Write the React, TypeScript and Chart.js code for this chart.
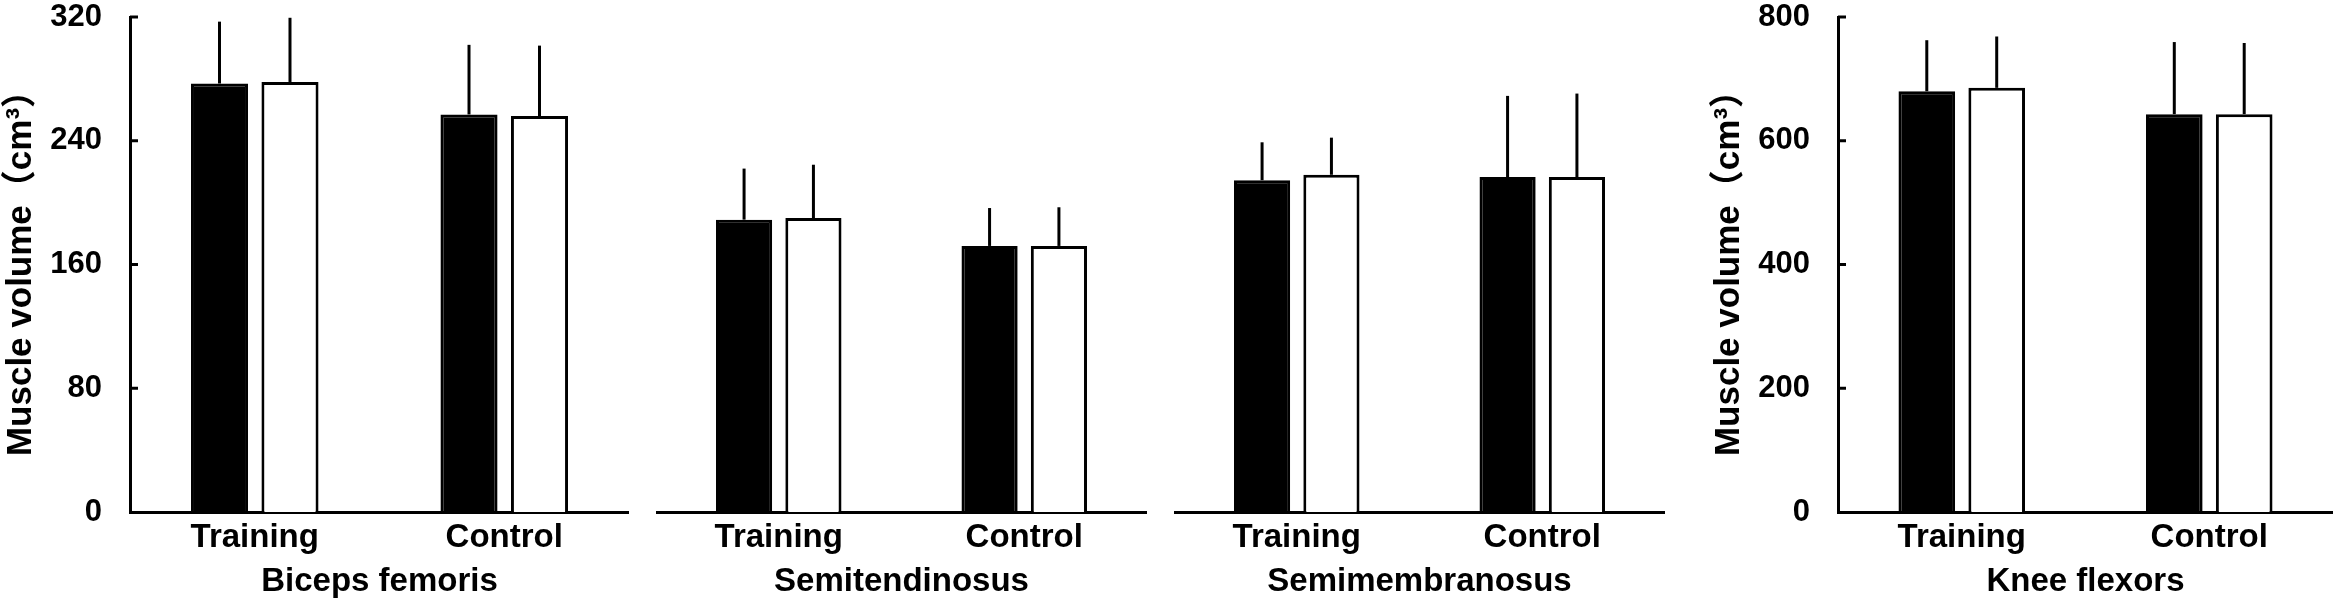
import { useEffect, useRef } from "react"
import { Chart, registerables } from "chart.js"

Chart.register(...registerables)

// groups on each x-axis
const groups = ["Training", "Control"]

// black bars (pre) and white bars (post): means and SD, cm3
const bicepsPre = [277, 257]
const bicepsPreSd = [40, 45]
const bicepsPost = [278, 256]
const bicepsPostSd = [41.5, 45.5]

const semitendPre = [189, 172]
const semitendPreSd = [33, 24.5]
const semitendPost = [190, 172]
const semitendPostSd = [34.5, 25]

const semimembPre = [214.5, 216.5]
const semimembPreSd = [24.5, 52.5]
const semimembPost = [218, 216.5]
const semimembPostSd = [24, 54]

const kneePre = [680, 643]
const kneePreSd = [82.5, 116.5]
const kneePost = [685.5, 643]
const kneePostSd = [83, 115]

const FONT = "'Liberation Sans', Arial, 'Noto Sans CJK JP', sans-serif"
const Y_TITLE = "Muscle volume（cm³）"

// vertical SD lines (upper half only, no caps)
const errorBarPlugin = {
  id: "errorBars",
  afterDatasetsDraw(chart: any, _args: any, opts: any) {
    const ctx = chart.ctx
    const y = chart.scales.y
    ctx.save()
    ctx.strokeStyle = "#000"
    ctx.lineWidth = 3
    chart.data.datasets.forEach((ds: any, d: number) => {
      const meta = chart.getDatasetMeta(d)
      meta.data.forEach((bar: any, i: number) => {
        const top = y.getPixelForValue(ds.data[i] + opts.sds[d][i])
        ctx.beginPath()
        ctx.moveTo(bar.x, bar.y)
        ctx.lineTo(bar.x, top)
        ctx.stroke()
      })
    })
    ctx.restore()
  },
}

// y tick marks pointing into the plot
const innerTicksPlugin = {
  id: "innerTicks",
  afterDraw(chart: any) {
    const y = chart.scales.y
    if (!y.options.display) return
    const ctx = chart.ctx
    const left = chart.chartArea.left
    ctx.save()
    ctx.strokeStyle = "#000"
    ctx.lineWidth = 3
    y.ticks.forEach((t: any) => {
      if (t.value === 0) return
      const py = y.getPixelForValue(t.value)
      ctx.beginPath()
      ctx.moveTo(left, py)
      ctx.lineTo(left + 8, py)
      ctx.stroke()
    })
    ctx.restore()
  },
}

interface PanelProps {
  title: string
  pre: number[]
  preSd: number[]
  post: number[]
  postSd: number[]
  max: number
  step: number
  showY: boolean
  left: number
  width: number
}

function Panel({ title, pre, preSd, post, postSd, max, step, showY, left, width }: PanelProps) {
  const canvasRef = useRef<HTMLCanvasElement>(null)

  useEffect(() => {
    if (!canvasRef.current) return
    const barOpts = { borderWidth: 3, borderColor: "#000", categoryPercentage: 0.565, barPercentage: 0.81 }
    const chart = new Chart(canvasRef.current, {
      type: "bar",
      data: {
        labels: groups,
        datasets: [
          { label: "Pre", data: pre, backgroundColor: "#000", ...barOpts },
          { label: "Post", data: post, backgroundColor: "#fff", ...barOpts },
        ],
      },
      options: {
        responsive: false,
        animation: false,
        devicePixelRatio: 1,
        layout: { padding: { top: 17, right: 0, bottom: 0, left: 0 } },
        plugins: {
          legend: { display: false },
          tooltip: { enabled: false },
          errorBars: { sds: [preSd, postSd] },
        } as any,
        scales: {
          x: {
            grid: { display: false, drawTicks: false },
            border: { color: "#000", width: 3 },
            ticks: { color: "#000", padding: 6, font: { family: FONT, size: 33, weight: "bold" } },
            title: {
              display: true,
              text: title,
              color: "#000",
              padding: { top: 0, bottom: 4 },
              font: { family: FONT, size: 33, weight: "bold" },
            },
            afterFit: (s: any) => {
              s.height = 94
            },
          },
          y: {
            display: showY,
            min: 0,
            max,
            grid: { display: false, drawTicks: false },
            border: { color: "#000", width: 3 },
            ticks: {
              stepSize: step,
              color: "#000",
              padding: 28,
              font: { family: FONT, size: 31, weight: "bold", lineHeight: 1 },
            },
            title: {
              display: true,
              text: Y_TITLE,
              color: "#000",
              padding: 0,
              font: { family: FONT, size: 35, weight: "bold" },
            },
            afterFit: (s: any) => {
              if (showY) s.width = 130
              s.paddingTop = 0
              s.paddingBottom = 0
            },
          },
        },
      },
      plugins: [errorBarPlugin, innerTicksPlugin],
    })
    return () => chart.destroy()
  }, [title, pre, preSd, post, postSd, max, step, showY])

  return (
    <canvas
      ref={canvasRef}
      width={width}
      height={606}
      style={{ position: "absolute", left, top: 0, width, height: 606 }}
    />
  )
}

export default function App() {
  return (
    <div style={{ position: "fixed", left: 0, top: 0, width: 2337, height: 606, background: "#fff" }}>
      <Panel title="Biceps femoris" pre={bicepsPre} preSd={bicepsPreSd} post={bicepsPost} postSd={bicepsPostSd}
        max={320} step={80} showY={true} left={0} width={629} />
      <Panel title="Semitendinosus" pre={semitendPre} preSd={semitendPreSd} post={semitendPost} postSd={semitendPostSd}
        max={320} step={80} showY={false} left={656} width={491} />
      <Panel title="Semimembranosus" pre={semimembPre} preSd={semimembPreSd} post={semimembPost} postSd={semimembPostSd}
        max={320} step={80} showY={false} left={1174} width={491} />
      <Panel title="Knee flexors" pre={kneePre} preSd={kneePreSd} post={kneePost} postSd={kneePostSd}
        max={800} step={200} showY={true} left={1708} width={625} />
    </div>
  )
}
